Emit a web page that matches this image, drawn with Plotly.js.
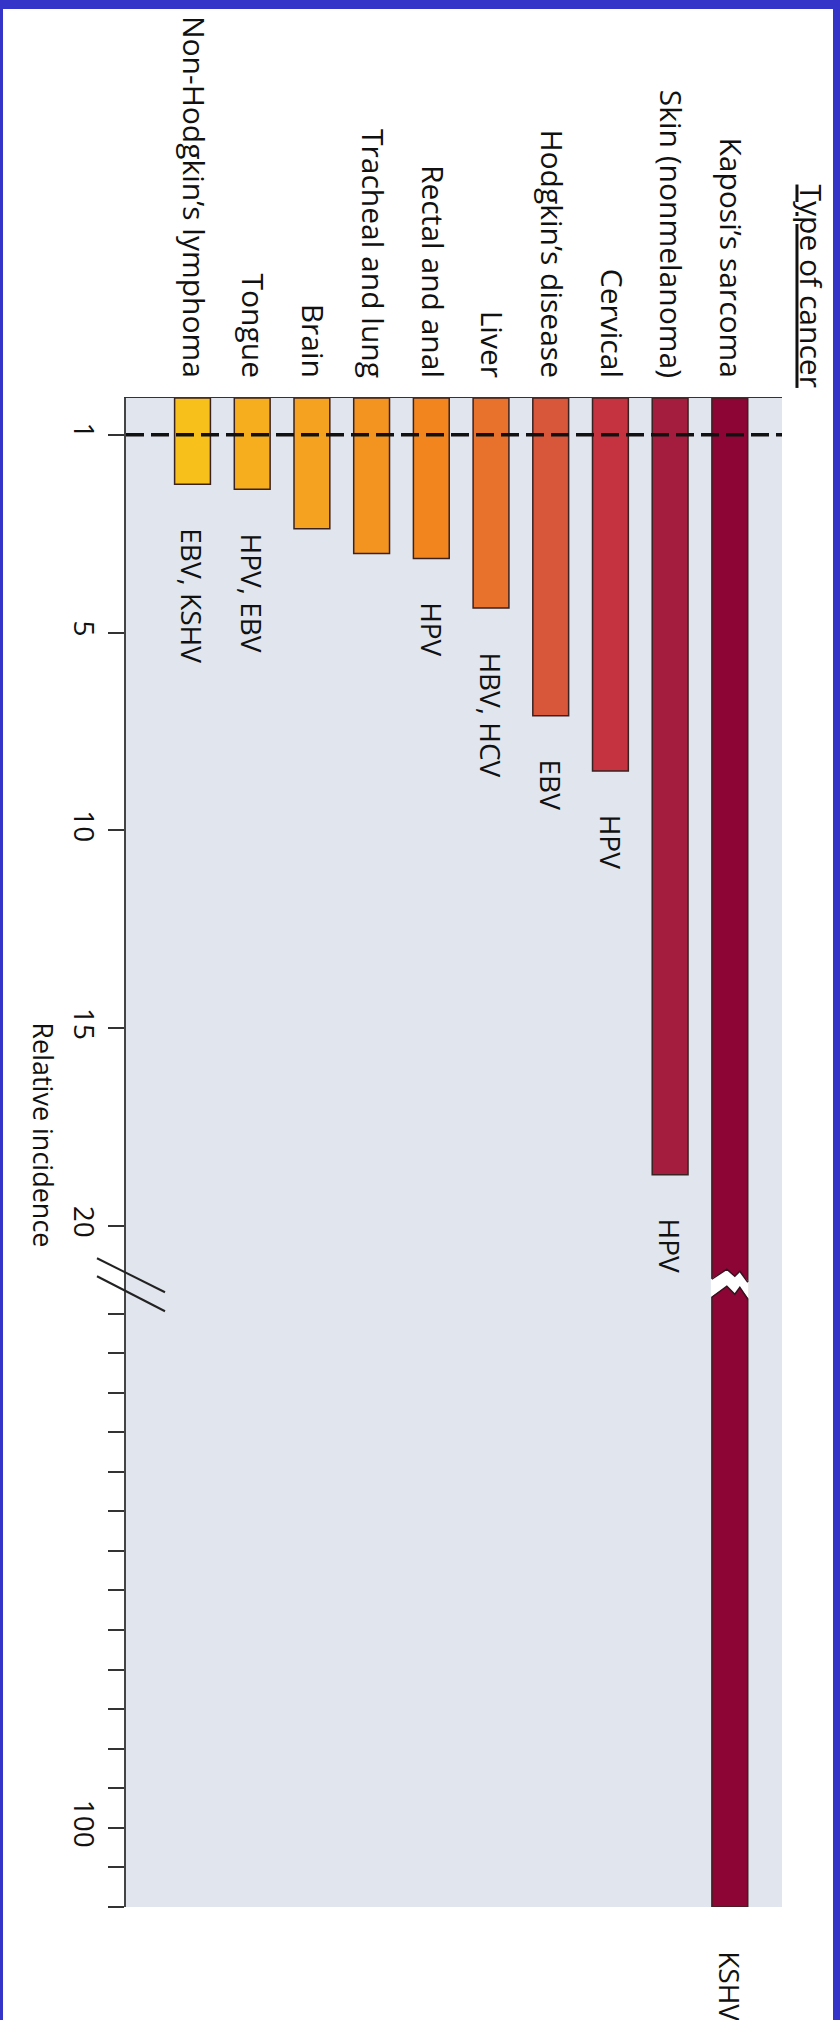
<!DOCTYPE html>
<html>
<head>
<meta charset="utf-8">
<script src="https://cdn.plot.ly/plotly-3.0.1.min.js"></script>
<style>
html, body { margin: 0; padding: 0; background: #ffffff; }
#frame { width: 830px; height: 2011px; border-top: 9px solid #3434c8; border-left: 3px solid #3434c8; border-right: 7px solid #3434c8; }
#chart { width: 830px; height: 2011px; }
</style>
</head>
<body>
<div id="frame"><div id="chart"></div></div>
<script>
// ---- data (left to right in the picture) ----
const cancerTypes = [
  "Non-Hodgkin’s lymphoma", "Tongue", "Brain", "Tracheal and lung",
  "Rectal and anal", "Liver", "Hodgkin’s disease", "Cervical",
  "Skin (nonmelanoma)", "Kaposi’s sarcoma"
];
const relativeIncidence = [2.0, 2.1, 2.9, 3.4, 3.5, 4.5, 7.1, 8.5, 18.7, 110];
const viruses = ["EBV, KSHV", "HPV, EBV", "", "", "HPV", "HBV, HCV", "EBV", "HPV", "HPV", "KSHV"];
const barColors = ["#F8C01B", "#F6AE1E", "#F4A21F", "#F39421", "#F2851E", "#E8712B",
                   "#D8563A", "#C4333F", "#A51D3E", "#8D0535"];
const baselineIncidence = 1;
const tickValues = [1, 5, 10, 15, 20, 35, 40, 45, 50, 55, 60, 65, 70, 75, 80, 85, 90, 95, 100, 105, 110];
const tickLabels = ["1", "5", "10", "15", "20", "", "", "", "", "", "", "", "", "", "", "", "", "", "100", "", ""];

// ---- broken value axis (piecewise-linear, as drawn in the figure) ----
const scaleIn  = [0, 1, 5, 20, 35, 110];
const scaleOut = [0, 0.93, 5.93, 20.93, 23.14, 38.14];
const axisMax = 110;
const breakAt = 22.4;
function axisPos(v) {
  for (let i = 1; i < scaleIn.length; i++) {
    if (v <= scaleIn[i]) {
      const t = (v - scaleIn[i - 1]) / (scaleIn[i] - scaleIn[i - 1]);
      return scaleOut[i - 1] + t * (scaleOut[i] - scaleOut[i - 1]);
    }
  }
  return scaleOut[scaleOut.length - 1];
}

const FONT = "Open Sans, sans-serif";
const INK = "#111111";

const trace = {
  type: "bar",
  x: cancerTypes,
  y: relativeIncidence.map(axisPos),
  width: 0.6,
  marker: { color: barColors, line: { color: "#3a2222", width: 1.5 } },
  hoverinfo: "skip"
};

const annotations = [];
cancerTypes.forEach((c, i) => {
  if (!viruses[i]) return;
  annotations.push({
    x: c, y: axisPos(relativeIncidence[i]), xref: "x", yref: "y",
    text: viruses[i], showarrow: false, textangle: 90,
    xanchor: "center", yanchor: "top", yshift: -42,
    font: { family: FONT, size: 28, color: INK }
  });
});
annotations.push({
  x: 1.0457, y: 1, xref: "paper", yref: "paper",
  text: "<u>Type of cancer</u>", showarrow: false, textangle: 90,
  xanchor: "center", yanchor: "bottom", yshift: 8,
  font: { family: FONT, size: 30, color: INK }
});
annotations.push({
  x: -0.127, y: 0.5116, xref: "paper", yref: "paper",
  text: "Relative incidence", showarrow: false, textangle: 90,
  xanchor: "center", yanchor: "middle",
  font: { family: FONT, size: 27, color: INK }
});

const kIdx = cancerTypes.length - 1;
const shapes = [
  { type: "line", xref: "paper", x0: 0, x1: 1, yref: "y",
    y0: axisPos(baselineIncidence), y1: axisPos(baselineIncidence),
    line: { color: INK, width: 3.5, dash: "18px,7px" }, layer: "above" },
  // axis break marks
  { type: "line", xref: "paper", xsizemode: "pixel", xanchor: 0, x0: -29, x1: 39,
    yref: "y", ysizemode: "pixel", yanchor: breakAt, y0: 26, y1: -8,
    line: { color: "#222", width: 2 }, layer: "above" },
  { type: "line", xref: "paper", xsizemode: "pixel", xanchor: 0, x0: -29, x1: 39,
    yref: "y", ysizemode: "pixel", yanchor: breakAt, y0: 8, y1: -27,
    line: { color: "#222", width: 2 }, layer: "above" },
  // break in the Kaposi bar
  { type: "path", xref: "x", xsizemode: "pixel", xanchor: kIdx,
    yref: "y", ysizemode: "pixel", yanchor: breakAt,
    path: "M -19 5 L -3 15 L 5 8 L 10 13 L 19 2 L 19 -15 L 10 -3 L 5 -10 L -3 -2 L -19 -13 Z",
    fillcolor: "#ffffff", line: { width: 0 }, layer: "above" },
  { type: "path", xref: "x", xsizemode: "pixel", xanchor: kIdx,
    yref: "y", ysizemode: "pixel", yanchor: breakAt,
    path: "M -18 5 L -3 15 L 5 8 L 10 13 L 18 2",
    line: { color: "#3a1020", width: 1.5 }, layer: "above" },
  { type: "path", xref: "x", xsizemode: "pixel", xanchor: kIdx,
    yref: "y", ysizemode: "pixel", yanchor: breakAt,
    path: "M -18 -13 L -3 -2 L 5 -10 L 10 -3 L 18 -15",
    line: { color: "#3a1020", width: 1.5 }, layer: "above" }
];

const layout = {
  width: 830, height: 2011,
  margin: { l: 123, r: 51, t: 389, b: 113, pad: 0 },
  paper_bgcolor: "#ffffff",
  plot_bgcolor: "#E0E5EE",
  showlegend: false,
  font: { family: FONT, color: INK },
  xaxis: {
    type: "category", side: "top", range: [-1.114, 9.874],
    showline: true, linecolor: "#333333", linewidth: 1.5,
    ticks: "", tickangle: 90, ticklabelstandoff: 8,
    tickfont: { family: FONT, size: 30, color: INK },
    showgrid: false, zeroline: false, fixedrange: true, automargin: false
  },
  yaxis: {
    range: [axisPos(axisMax), 0],
    showline: true, linecolor: "#444444", linewidth: 2,
    ticks: "outside", ticklen: 16, tickwidth: 2, tickcolor: "#333333",
    tickmode: "array", tickvals: tickValues.map(axisPos), ticktext: tickLabels,
    tickangle: 90, ticklabelstandoff: 0,
    tickfont: { family: FONT, size: 28, color: INK },
    showgrid: false, zeroline: false, fixedrange: true, automargin: false
  },
  annotations: annotations,
  shapes: shapes
};

Plotly.newPlot("chart", [trace], layout, { displayModeBar: false, staticPlot: true });
</script>
</body>
</html>
